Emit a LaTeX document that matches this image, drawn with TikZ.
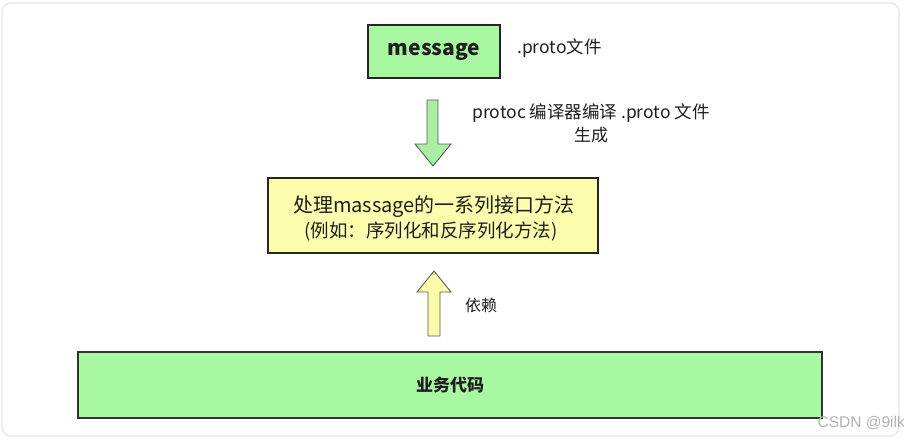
\documentclass[tikz,border=0pt]{standalone}
\usepackage{fontspec}
\setmainfont{Noto Sans CJK SC}
\newfontfamily\wmfont{Liberation Sans}
\definecolor{boxgreen}{HTML}{A8F8A2}
\definecolor{boxyellow}{HTML}{FDFDAE}
\definecolor{arrowgreen}{HTML}{A8F0A0}
\definecolor{arrowyellow}{HTML}{FAFAA8}
\definecolor{txt}{HTML}{1E1E1E}
\begin{document}
\begin{tikzpicture}[x=1pt,y=-1pt,
  box/.style={draw=black!85,line width=1.1pt,inner sep=0pt,text=txt},
  blockarrow/.style={draw=black!65,line width=0.9pt,line join=miter},
  lbl/.style={text=txt,inner sep=0pt}]
\useasboundingbox (0,0) rectangle (904,439);
\draw[black!10,line width=1.2pt,rounded corners=9pt] (2,3) rectangle (899,436);

% boxes
\node[box,fill=boxgreen,minimum width=132pt,minimum height=53pt] (msg) at (434,51.5)
  {\fontsize{21}{24}\selectfont\bfseries message};
\node[box,fill=boxyellow,minimum width=330pt,minimum height=75pt] (api) at (433,215.5) {};
\node[lbl,font=\fontsize{20}{24}\selectfont] (apil1) at (434,207) {处理massage的一系列接口方法};
\node[lbl,font=\fontsize{18.5}{22}\selectfont] (apil2) at (431,231) {(例如：序列化和反序列化方法)};
\node[box,fill=boxgreen,minimum width=744pt,minimum height=66pt,draw=black!80] (biz) at (450,385)
  {\fontsize{17}{20}\selectfont\bfseries 业务代码};

% labels
\node[lbl,anchor=west,font=\fontsize{17.5}{20}\selectfont] (proto) at (517,48) {.proto文件};
\node[lbl,font=\fontsize{17.5}{20}\selectfont] (gen1) at (591,113) {protoc 编译器编译 .proto 文件};
\node[lbl,font=\fontsize{17}{20}\selectfont] (gen2) at (591,135) {生成};
\node[lbl,anchor=west,font=\fontsize{16}{18}\selectfont] (dep) at (465,305) {依赖};
\node[text=black!30,anchor=east,inner sep=0pt,font=\wmfont\fontsize{15.5}{17}\selectfont] (wm) at (905,423) {CSDN @9ilk};

% down arrow (message -> api)
\draw[blockarrow,fill=arrowgreen]
  (427,100) -- (438,100) -- (438,144) -- (451,144) -- (433,166) -- (415,144) -- (427,144) -- cycle;
% up arrow (biz -> api)
\draw[blockarrow,fill=arrowyellow]
  (428,336) -- (440,336) -- (440,292) -- (451,292) -- (434,271) -- (417,292) -- (428,292) -- cycle;
\end{tikzpicture}
\end{document}
